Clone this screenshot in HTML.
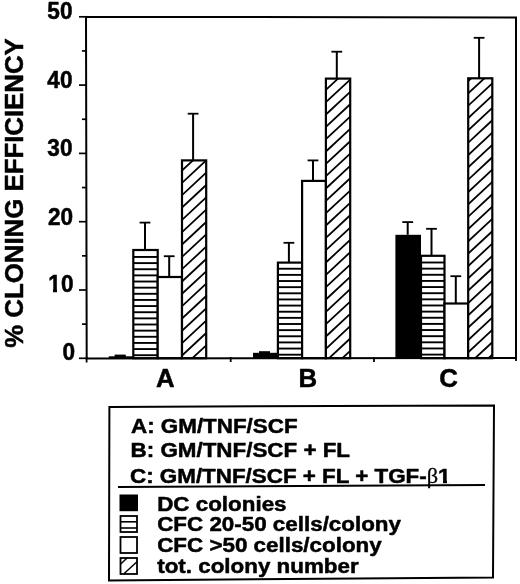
<!DOCTYPE html>
<html><head><meta charset="utf-8"><title>Cloning efficiency</title>
<style>html,body{margin:0;padding:0;background:#fff;}body{width:520px;height:584px;overflow:hidden;}svg{display:block;}text{stroke:#000;stroke-width:0.5px;stroke-linejoin:round;}tspan.b{stroke-width:0.25px;}</style>
</head><body>
<svg width="520" height="584" viewBox="0 0 520 584" font-family="'Liberation Sans', Arial, Helvetica, sans-serif"><defs><clipPath id="c3"><rect x="182.0" y="160.40" width="24.20" height="197.80"/></clipPath><clipPath id="c7"><rect x="325.9" y="78.60" width="24.30" height="279.60"/></clipPath><clipPath id="c11"><rect x="468.2" y="78.30" width="24.10" height="279.90"/></clipPath></defs><rect x="108.8" y="356.30" width="24.50" height="1.90" fill="#000"/><rect x="133.3" y="250.00" width="24.40" height="108.20" fill="#fff"/><line x1="133.3" y1="355.20" x2="157.7" y2="355.20" stroke="#000" stroke-width="1.9"/><line x1="133.3" y1="349.06" x2="157.7" y2="349.06" stroke="#000" stroke-width="1.9"/><line x1="133.3" y1="342.92" x2="157.7" y2="342.92" stroke="#000" stroke-width="1.9"/><line x1="133.3" y1="336.78" x2="157.7" y2="336.78" stroke="#000" stroke-width="1.9"/><line x1="133.3" y1="330.64" x2="157.7" y2="330.64" stroke="#000" stroke-width="1.9"/><line x1="133.3" y1="324.50" x2="157.7" y2="324.50" stroke="#000" stroke-width="1.9"/><line x1="133.3" y1="318.36" x2="157.7" y2="318.36" stroke="#000" stroke-width="1.9"/><line x1="133.3" y1="312.22" x2="157.7" y2="312.22" stroke="#000" stroke-width="1.9"/><line x1="133.3" y1="306.08" x2="157.7" y2="306.08" stroke="#000" stroke-width="1.9"/><line x1="133.3" y1="299.94" x2="157.7" y2="299.94" stroke="#000" stroke-width="1.9"/><line x1="133.3" y1="293.80" x2="157.7" y2="293.80" stroke="#000" stroke-width="1.9"/><line x1="133.3" y1="287.66" x2="157.7" y2="287.66" stroke="#000" stroke-width="1.9"/><line x1="133.3" y1="281.52" x2="157.7" y2="281.52" stroke="#000" stroke-width="1.9"/><line x1="133.3" y1="275.38" x2="157.7" y2="275.38" stroke="#000" stroke-width="1.9"/><line x1="133.3" y1="269.24" x2="157.7" y2="269.24" stroke="#000" stroke-width="1.9"/><line x1="133.3" y1="263.10" x2="157.7" y2="263.10" stroke="#000" stroke-width="1.9"/><line x1="133.3" y1="256.96" x2="157.7" y2="256.96" stroke="#000" stroke-width="1.9"/><rect x="133.3" y="250.00" width="24.40" height="108.20" fill="none" stroke="#000" stroke-width="2.2"/><rect x="157.7" y="277.00" width="24.30" height="81.20" fill="#fff"/><rect x="157.7" y="277.00" width="24.30" height="81.20" fill="none" stroke="#000" stroke-width="2.2"/><rect x="182.0" y="160.40" width="24.20" height="197.80" fill="#fff"/><g clip-path="url(#c3)" stroke="#000" stroke-width="1.8"><line x1="182.0" y1="170.55" x2="206.2" y2="148.04"/><line x1="182.0" y1="182.88" x2="206.2" y2="160.37"/><line x1="182.0" y1="195.21" x2="206.2" y2="172.70"/><line x1="182.0" y1="207.54" x2="206.2" y2="185.03"/><line x1="182.0" y1="219.87" x2="206.2" y2="197.36"/><line x1="182.0" y1="232.20" x2="206.2" y2="209.69"/><line x1="182.0" y1="244.53" x2="206.2" y2="222.02"/><line x1="182.0" y1="256.86" x2="206.2" y2="234.35"/><line x1="182.0" y1="269.19" x2="206.2" y2="246.68"/><line x1="182.0" y1="281.52" x2="206.2" y2="259.01"/><line x1="182.0" y1="293.85" x2="206.2" y2="271.34"/><line x1="182.0" y1="306.18" x2="206.2" y2="283.67"/><line x1="182.0" y1="318.51" x2="206.2" y2="296.00"/><line x1="182.0" y1="330.84" x2="206.2" y2="308.33"/><line x1="182.0" y1="343.17" x2="206.2" y2="320.66"/><line x1="182.0" y1="355.50" x2="206.2" y2="332.99"/><line x1="182.0" y1="367.83" x2="206.2" y2="345.32"/><line x1="182.0" y1="380.16" x2="206.2" y2="357.65"/></g><rect x="182.0" y="160.40" width="24.20" height="197.80" fill="none" stroke="#000" stroke-width="2.2"/><rect x="253.0" y="352.80" width="24.90" height="5.40" fill="#000"/><rect x="277.9" y="262.60" width="24.20" height="95.60" fill="#fff"/><line x1="277.9" y1="354.70" x2="302.1" y2="354.70" stroke="#000" stroke-width="1.9"/><line x1="277.9" y1="348.56" x2="302.1" y2="348.56" stroke="#000" stroke-width="1.9"/><line x1="277.9" y1="342.42" x2="302.1" y2="342.42" stroke="#000" stroke-width="1.9"/><line x1="277.9" y1="336.28" x2="302.1" y2="336.28" stroke="#000" stroke-width="1.9"/><line x1="277.9" y1="330.14" x2="302.1" y2="330.14" stroke="#000" stroke-width="1.9"/><line x1="277.9" y1="324.00" x2="302.1" y2="324.00" stroke="#000" stroke-width="1.9"/><line x1="277.9" y1="317.86" x2="302.1" y2="317.86" stroke="#000" stroke-width="1.9"/><line x1="277.9" y1="311.72" x2="302.1" y2="311.72" stroke="#000" stroke-width="1.9"/><line x1="277.9" y1="305.58" x2="302.1" y2="305.58" stroke="#000" stroke-width="1.9"/><line x1="277.9" y1="299.44" x2="302.1" y2="299.44" stroke="#000" stroke-width="1.9"/><line x1="277.9" y1="293.30" x2="302.1" y2="293.30" stroke="#000" stroke-width="1.9"/><line x1="277.9" y1="287.16" x2="302.1" y2="287.16" stroke="#000" stroke-width="1.9"/><line x1="277.9" y1="281.02" x2="302.1" y2="281.02" stroke="#000" stroke-width="1.9"/><line x1="277.9" y1="274.88" x2="302.1" y2="274.88" stroke="#000" stroke-width="1.9"/><line x1="277.9" y1="268.74" x2="302.1" y2="268.74" stroke="#000" stroke-width="1.9"/><rect x="277.9" y="262.60" width="24.20" height="95.60" fill="none" stroke="#000" stroke-width="2.2"/><rect x="302.1" y="180.90" width="23.80" height="177.30" fill="#fff"/><rect x="302.1" y="180.90" width="23.80" height="177.30" fill="none" stroke="#000" stroke-width="2.2"/><rect x="325.9" y="78.60" width="24.30" height="279.60" fill="#fff"/><g clip-path="url(#c7)" stroke="#000" stroke-width="1.8"><line x1="325.9" y1="89.87" x2="350.2" y2="67.27"/><line x1="325.9" y1="102.20" x2="350.2" y2="79.60"/><line x1="325.9" y1="114.53" x2="350.2" y2="91.93"/><line x1="325.9" y1="126.86" x2="350.2" y2="104.26"/><line x1="325.9" y1="139.19" x2="350.2" y2="116.59"/><line x1="325.9" y1="151.52" x2="350.2" y2="128.92"/><line x1="325.9" y1="163.85" x2="350.2" y2="141.25"/><line x1="325.9" y1="176.18" x2="350.2" y2="153.58"/><line x1="325.9" y1="188.51" x2="350.2" y2="165.91"/><line x1="325.9" y1="200.84" x2="350.2" y2="178.24"/><line x1="325.9" y1="213.17" x2="350.2" y2="190.57"/><line x1="325.9" y1="225.50" x2="350.2" y2="202.90"/><line x1="325.9" y1="237.83" x2="350.2" y2="215.23"/><line x1="325.9" y1="250.16" x2="350.2" y2="227.56"/><line x1="325.9" y1="262.49" x2="350.2" y2="239.89"/><line x1="325.9" y1="274.82" x2="350.2" y2="252.22"/><line x1="325.9" y1="287.15" x2="350.2" y2="264.55"/><line x1="325.9" y1="299.48" x2="350.2" y2="276.88"/><line x1="325.9" y1="311.81" x2="350.2" y2="289.21"/><line x1="325.9" y1="324.14" x2="350.2" y2="301.54"/><line x1="325.9" y1="336.47" x2="350.2" y2="313.87"/><line x1="325.9" y1="348.80" x2="350.2" y2="326.20"/><line x1="325.9" y1="361.13" x2="350.2" y2="338.53"/><line x1="325.9" y1="373.46" x2="350.2" y2="350.86"/></g><rect x="325.9" y="78.60" width="24.30" height="279.60" fill="none" stroke="#000" stroke-width="2.2"/><rect x="395.4" y="234.80" width="25.60" height="123.40" fill="#000"/><rect x="421.0" y="255.80" width="23.50" height="102.40" fill="#fff"/><line x1="421.0" y1="354.60" x2="444.5" y2="354.60" stroke="#000" stroke-width="1.9"/><line x1="421.0" y1="348.46" x2="444.5" y2="348.46" stroke="#000" stroke-width="1.9"/><line x1="421.0" y1="342.32" x2="444.5" y2="342.32" stroke="#000" stroke-width="1.9"/><line x1="421.0" y1="336.18" x2="444.5" y2="336.18" stroke="#000" stroke-width="1.9"/><line x1="421.0" y1="330.04" x2="444.5" y2="330.04" stroke="#000" stroke-width="1.9"/><line x1="421.0" y1="323.90" x2="444.5" y2="323.90" stroke="#000" stroke-width="1.9"/><line x1="421.0" y1="317.76" x2="444.5" y2="317.76" stroke="#000" stroke-width="1.9"/><line x1="421.0" y1="311.62" x2="444.5" y2="311.62" stroke="#000" stroke-width="1.9"/><line x1="421.0" y1="305.48" x2="444.5" y2="305.48" stroke="#000" stroke-width="1.9"/><line x1="421.0" y1="299.34" x2="444.5" y2="299.34" stroke="#000" stroke-width="1.9"/><line x1="421.0" y1="293.20" x2="444.5" y2="293.20" stroke="#000" stroke-width="1.9"/><line x1="421.0" y1="287.06" x2="444.5" y2="287.06" stroke="#000" stroke-width="1.9"/><line x1="421.0" y1="280.92" x2="444.5" y2="280.92" stroke="#000" stroke-width="1.9"/><line x1="421.0" y1="274.78" x2="444.5" y2="274.78" stroke="#000" stroke-width="1.9"/><line x1="421.0" y1="268.64" x2="444.5" y2="268.64" stroke="#000" stroke-width="1.9"/><line x1="421.0" y1="262.50" x2="444.5" y2="262.50" stroke="#000" stroke-width="1.9"/><rect x="421.0" y="255.80" width="23.50" height="102.40" fill="none" stroke="#000" stroke-width="2.2"/><rect x="444.5" y="303.50" width="23.70" height="54.70" fill="#fff"/><rect x="444.5" y="303.50" width="23.70" height="54.70" fill="none" stroke="#000" stroke-width="2.2"/><rect x="468.2" y="78.30" width="24.10" height="279.90" fill="#fff"/><g clip-path="url(#c11)" stroke="#000" stroke-width="1.8"><line x1="468.2" y1="81.04" x2="492.3" y2="58.63"/><line x1="468.2" y1="93.37" x2="492.3" y2="70.96"/><line x1="468.2" y1="105.70" x2="492.3" y2="83.29"/><line x1="468.2" y1="118.03" x2="492.3" y2="95.62"/><line x1="468.2" y1="130.36" x2="492.3" y2="107.95"/><line x1="468.2" y1="142.69" x2="492.3" y2="120.28"/><line x1="468.2" y1="155.02" x2="492.3" y2="132.61"/><line x1="468.2" y1="167.35" x2="492.3" y2="144.94"/><line x1="468.2" y1="179.68" x2="492.3" y2="157.27"/><line x1="468.2" y1="192.01" x2="492.3" y2="169.60"/><line x1="468.2" y1="204.34" x2="492.3" y2="181.93"/><line x1="468.2" y1="216.67" x2="492.3" y2="194.26"/><line x1="468.2" y1="229.00" x2="492.3" y2="206.59"/><line x1="468.2" y1="241.33" x2="492.3" y2="218.92"/><line x1="468.2" y1="253.66" x2="492.3" y2="231.25"/><line x1="468.2" y1="265.99" x2="492.3" y2="243.58"/><line x1="468.2" y1="278.32" x2="492.3" y2="255.91"/><line x1="468.2" y1="290.65" x2="492.3" y2="268.24"/><line x1="468.2" y1="302.98" x2="492.3" y2="280.57"/><line x1="468.2" y1="315.31" x2="492.3" y2="292.90"/><line x1="468.2" y1="327.64" x2="492.3" y2="305.23"/><line x1="468.2" y1="339.97" x2="492.3" y2="317.56"/><line x1="468.2" y1="352.30" x2="492.3" y2="329.89"/><line x1="468.2" y1="364.63" x2="492.3" y2="342.22"/><line x1="468.2" y1="376.96" x2="492.3" y2="354.55"/></g><rect x="468.2" y="78.30" width="24.10" height="279.90" fill="none" stroke="#000" stroke-width="2.2"/><rect x="114.6" y="354.6" width="11.2" height="3" fill="#000"/><rect x="259" y="351.2" width="11" height="3" fill="#000"/><line x1="145.00" y1="250.00" x2="145.00" y2="222.60" stroke="#000" stroke-width="2.0"/><line x1="139.60" y1="222.60" x2="150.40" y2="222.60" stroke="#000" stroke-width="1.8"/><line x1="169.20" y1="277.00" x2="169.20" y2="256.20" stroke="#000" stroke-width="2.0"/><line x1="163.80" y1="256.20" x2="174.60" y2="256.20" stroke="#000" stroke-width="1.8"/><line x1="193.10" y1="160.40" x2="193.10" y2="113.70" stroke="#000" stroke-width="2.0"/><line x1="187.70" y1="113.70" x2="198.50" y2="113.70" stroke="#000" stroke-width="1.8"/><line x1="288.90" y1="262.60" x2="288.90" y2="242.80" stroke="#000" stroke-width="2.0"/><line x1="283.50" y1="242.80" x2="294.30" y2="242.80" stroke="#000" stroke-width="1.8"/><line x1="313.00" y1="180.90" x2="313.00" y2="160.40" stroke="#000" stroke-width="2.0"/><line x1="307.60" y1="160.40" x2="318.40" y2="160.40" stroke="#000" stroke-width="1.8"/><line x1="336.80" y1="78.60" x2="336.80" y2="51.70" stroke="#000" stroke-width="2.0"/><line x1="331.40" y1="51.70" x2="342.20" y2="51.70" stroke="#000" stroke-width="1.8"/><line x1="407.70" y1="234.80" x2="407.70" y2="222.10" stroke="#000" stroke-width="2.0"/><line x1="402.30" y1="222.10" x2="413.10" y2="222.10" stroke="#000" stroke-width="1.8"/><line x1="431.50" y1="255.80" x2="431.50" y2="228.80" stroke="#000" stroke-width="2.0"/><line x1="426.10" y1="228.80" x2="436.90" y2="228.80" stroke="#000" stroke-width="1.8"/><line x1="455.80" y1="303.50" x2="455.80" y2="276.20" stroke="#000" stroke-width="2.0"/><line x1="450.40" y1="276.20" x2="461.20" y2="276.20" stroke="#000" stroke-width="1.8"/><line x1="479.10" y1="78.30" x2="479.10" y2="37.80" stroke="#000" stroke-width="2.0"/><line x1="473.70" y1="37.80" x2="484.50" y2="37.80" stroke="#000" stroke-width="1.8"/><polygon points="86,16.9 516,17.4 516,357.9 86.7,358.6" fill="none" stroke="#000" stroke-width="2"/><line x1="79" y1="358.30" x2="87" y2="358.30" stroke="#000" stroke-width="1.7"/><line x1="82" y1="324.15" x2="87" y2="324.15" stroke="#000" stroke-width="1.7"/><line x1="79" y1="290.00" x2="87" y2="290.00" stroke="#000" stroke-width="1.7"/><line x1="82" y1="255.85" x2="87" y2="255.85" stroke="#000" stroke-width="1.7"/><line x1="79" y1="221.70" x2="87" y2="221.70" stroke="#000" stroke-width="1.7"/><line x1="82" y1="187.55" x2="87" y2="187.55" stroke="#000" stroke-width="1.7"/><line x1="79" y1="153.40" x2="87" y2="153.40" stroke="#000" stroke-width="1.7"/><line x1="82" y1="119.25" x2="87" y2="119.25" stroke="#000" stroke-width="1.7"/><line x1="79" y1="85.10" x2="87" y2="85.10" stroke="#000" stroke-width="1.7"/><line x1="82" y1="50.95" x2="87" y2="50.95" stroke="#000" stroke-width="1.7"/><line x1="79" y1="16.80" x2="87" y2="16.80" stroke="#000" stroke-width="1.7"/><line x1="230.7" y1="357" x2="230.7" y2="362" stroke="#000" stroke-width="1.8"/><line x1="374" y1="357" x2="374" y2="362" stroke="#000" stroke-width="1.8"/><line x1="86.6" y1="357" x2="86.6" y2="362.5" stroke="#000" stroke-width="1.8"/><line x1="516" y1="357" x2="516" y2="361" stroke="#000" stroke-width="1.8"/><text transform="translate(72.5,18.5) scale(1,1.03)" text-anchor="end" font-size="22.6" font-weight="bold">50</text><text transform="translate(72.5,88) scale(1,1.03)" text-anchor="end" font-size="22.6" font-weight="bold">40</text><text transform="translate(72.5,155.6) scale(1,1.03)" text-anchor="end" font-size="22.6" font-weight="bold">30</text><text transform="translate(73.1,224.5) scale(1,1.03)" text-anchor="end" font-size="22.6" font-weight="bold">20</text><text transform="translate(73.5,291.6) scale(1,1.03)" text-anchor="end" font-size="22.6" font-weight="bold">10</text><text transform="translate(75.2,360.3) scale(1,1.03)" text-anchor="end" font-size="22.6" font-weight="bold">0</text><text x="165.4" y="387.3" text-anchor="middle" font-size="25.8" font-weight="bold">A</text><text x="307.7" y="387.3" text-anchor="middle" font-size="25.8" font-weight="bold">B</text><text x="448.5" y="387.3" text-anchor="middle" font-size="25.8" font-weight="bold">C</text><text transform="translate(22.7,193) rotate(-90)" text-anchor="middle" font-size="25.8" font-weight="bold">% CLONING EFFICIENCY</text><rect x="48.5" y="289" width="4.5" height="4" fill="#fff"/><rect x="57" y="289" width="3.9" height="4" fill="#fff"/><polygon points="109.4,406.9 494,405.5 493,577.5 109,580.4" fill="none" stroke="#000" stroke-width="2"/><line x1="118" y1="487" x2="485" y2="485" stroke="#000" stroke-width="1.8"/><text transform="translate(131.0,433.4) scale(1.082,1)" font-size="20.7" font-weight="bold">A: GM/TNF/SCF</text><text transform="translate(130.6,457.2) scale(1.082,1)" font-size="20.7" font-weight="bold">B: GM/TNF/SCF + FL</text><text transform="translate(130.0,482.8) scale(1.082,1)" font-size="20.7" font-weight="bold">C: GM/TNF/SCF + FL + TGF-<tspan class="b" font-family="'Liberation Serif', serif" font-weight="normal">&#946;</tspan>1</text><text transform="translate(157.2,510.6) scale(1.082,1)" font-size="20.7" font-weight="bold">DC colonies</text><text transform="translate(157.2,530.9) scale(1.082,1)" font-size="20.7" font-weight="bold">CFC 20-50 cells/colony</text><text transform="translate(157.2,551.7) scale(1.082,1)" font-size="20.7" font-weight="bold">CFC &gt;50 cells/colony</text><text transform="translate(157.2,573.3) scale(1.082,1)" font-size="20.7" font-weight="bold">tot. colony number</text><rect x="119.5" y="494.5" width="18.5" height="16.7" fill="#000"/><rect x="120.5" y="516" width="16.5" height="16" fill="#fff" stroke="#000" stroke-width="1.8"/><line x1="120.5" y1="521.8" x2="137" y2="521.8" stroke="#000" stroke-width="1.6"/><line x1="120.5" y1="528" x2="137" y2="528" stroke="#000" stroke-width="1.6"/><rect x="120.5" y="537" width="16.5" height="16" fill="#fff" stroke="#000" stroke-width="1.8"/><rect x="120.5" y="558" width="16.5" height="16" fill="#fff" stroke="#000" stroke-width="1.8"/><line x1="120.7" y1="564" x2="127.4" y2="557.8" stroke="#000" stroke-width="1.5"/><line x1="123.9" y1="573.8" x2="137" y2="561.8" stroke="#000" stroke-width="1.5"/><rect x="438.5" y="479.7" width="4.5" height="3.9" fill="#fff"/><rect x="447" y="479.7" width="3.6" height="3.9" fill="#fff"/></svg>
</body></html>
